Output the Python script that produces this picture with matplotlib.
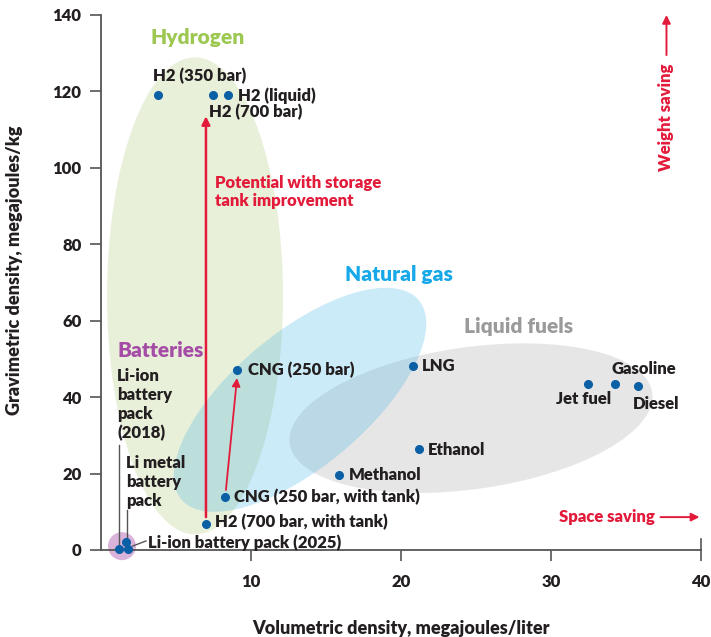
import matplotlib
matplotlib.use("Agg")
import matplotlib.pyplot as plt
from matplotlib.patches import Ellipse
from matplotlib.transforms import ScaledTranslation

plt.rcParams["font.family"] = ["Lato", "DejaVu Sans"]

# fuel points: volumetric (MJ/L), gravimetric (MJ/kg)
names = ["H2 (350 bar)", "H2 (700 bar)", "H2 (liquid)", "CNG (250 bar)", "LNG",
         "Ethanol", "Methanol", "Jet fuel", "Gasoline", "Diesel",
         "CNG (250 bar, with tank)", "H2 (700 bar, with tank)",
         "Li-ion battery pack (2018)", "Li metal battery pack",
         "Li-ion battery pack (2025)"]
vol = [3.8, 7.5, 8.5, 9.1, 20.8, 21.2, 15.9, 32.5, 34.3, 35.8, 8.3, 7.0, 1.2, 1.7, 1.8]
grav = [119, 119, 119, 47.1, 48.2, 26.4, 19.6, 43.4, 43.4, 42.9, 13.9, 6.8, 0.3, 2.1, 0.3]

xticks = [10, 20, 30, 40]
yticks = [0, 20, 40, 60, 80, 100, 120, 140]

DARK = "#231f20"
RED = "#e31b3b"
DOT = "#0b5fa5"
W = 800  # heavy weight to match the original typeface
FS = 12

fig = plt.figure(figsize=(7.11, 6.37), dpi=100)
ax = fig.add_axes([0.1420, 0.1366, 0.8439, 0.8399])
ax.set_xlim(0, 40)
ax.set_ylim(0, 140)


def blob(cx, cy, w, h, angle, color, alpha=1.0, z=0.5):
    # ellipse centred on a data point, sized in inches so it keeps its shape
    tr = fig.dpi_scale_trans + ScaledTranslation(cx, cy, ax.transData)
    e = Ellipse((0, 0), w, h, angle=angle, transform=tr, facecolor=color,
                edgecolor="none", alpha=alpha, zorder=z, clip_on=False)
    ax.add_patch(e)


blob(6.27, 66.5, 1.76, 4.77, 0, "#e9f0da", z=0.3)
blob(24.67, 34.5, 3.66, 1.42, 8, "#e6e6e6", z=0.4)
blob(13.27, 39.3, 3.10, 1.34, 40, "#37b0e4", alpha=0.25, z=0.5)
blob(1.4, 1.0, 0.28, 0.28, 0, "#dab3da", z=0.6)

ax.plot(vol, grav, "o", color=DOT, markersize=5.5, zorder=3, clip_on=False)

# group titles
grp = dict(fontsize=15, fontweight=W, va="center")
ax.text(6.47, 134, "Hydrogen", color="#9cc750", ha="center", **grp)
ax.text(19.87, 72.2, "Natural gas", color="#16a8e8", ha="center", **grp)
ax.text(27.87, 58.4, "Liquid fuels", color="#9a9a9a", ha="center", **grp)
ax.text(1.07, 52.1, "Batteries", color="#a54ca6", ha="left", **grp)

lab = dict(color=DARK, fontsize=FS, fontweight=W, va="center")
ax.text(3.47, 124.0, names[0], ha="left", **lab)
ax.text(9.13, 118.8, names[2], ha="left", **lab)
ax.text(7.2, 114.6, names[1], ha="left", **lab)
ax.text(9.8, 47.1, names[3], ha="left", **lab)
ax.text(21.4, 48.2, names[4], ha="left", **lab)
ax.text(21.8, 26.2, names[5], ha="left", **lab)
ax.text(16.53, 19.6, names[6], ha="left", **lab)
ax.text(32.2, 39.5, names[7], ha="center", **lab)
ax.text(36.2, 47.4, names[8], ha="center", **lab)
ax.text(37.0, 38.2, names[9], ha="center", **lab)
ax.text(8.87, 13.9, names[10], ha="left", **lab)
ax.text(7.6, 7.3, names[11], ha="left", **lab)
ax.text(3.13, 1.8, names[14], ha="left", **lab)
ax.text(1.07, 47.6, "Li-ion\nbattery\npack\n(2018)", ha="left", va="top",
        color=DARK, fontsize=FS, fontweight=W, linespacing=1.22)
ax.text(1.67, 24.9, "Li metal\nbattery\npack", ha="left", va="top",
        color=DARK, fontsize=FS, fontweight=W, linespacing=1.22)

# leader lines for the battery packs
ax.plot([1.2, 1.2], [27.5, 1.3], color="#555555", lw=1.0, zorder=2)
ax.plot([1.73, 1.73], [10.5, 3.1], color="#555555", lw=1.0, zorder=2)
ax.plot([2.13, 3.0], [1.05, 2.36], color="#555555", lw=1.0, zorder=2)

# red annotations
arw = dict(arrowstyle="-|>", color=RED, lw=1.8, mutation_scale=12, shrinkA=0, shrinkB=0)
ax.annotate("", xy=(7.0, 113.5), xytext=(7.0, 8.6), arrowprops=arw)
ax.annotate("", xy=(9.07, 45.0), xytext=(8.33, 15.7), arrowprops=dict(arw, lw=1.3))
ax.text(7.6, 98.1, "Potential with storage\ntank improvement", color=RED,
        fontsize=FS, fontweight=W, ha="left", va="top", linespacing=1.15)
ax.text(37.7, 113.3, "Weight saving", color=RED, fontsize=FS, fontweight=W,
        rotation=90, ha="center", va="center")
ax.annotate("", xy=(37.7, 140), xytext=(37.7, 129.5), arrowprops=dict(arw, lw=1.4),
            annotation_clip=False)
ax.text(36.9, 8.6, "Space saving", color=RED, fontsize=FS, fontweight=W,
        ha="right", va="center")
ax.annotate("", xy=(39.9, 8.6), xytext=(37.3, 8.6), arrowprops=dict(arw, lw=1.4))

# axes styling
for s in ["top", "right"]:
    ax.spines[s].set_visible(False)
for s in ["left", "bottom"]:
    ax.spines[s].set_color("#555555")
    ax.spines[s].set_linewidth(1.3)
ax.set_xticks(xticks)
ax.set_yticks(yticks)
ax.tick_params(axis="both", direction="out", length=8, width=1.2, color="#555555",
               labelsize=12, labelcolor=DARK)
ax.tick_params(axis="x", pad=9)
ax.tick_params(axis="y", pad=6)
for t in ax.get_xticklabels() + ax.get_yticklabels():
    t.set_fontweight(W)
ax.plot([40, 40], [0, 2.8], color="#555555", lw=1.2, clip_on=False, zorder=3)

ax.set_xlabel("Volumetric density, megajoules/liter", fontsize=13, fontweight=W, color=DARK)
ax.set_ylabel("Gravimetric density, megajoules/kg", fontsize=13, fontweight=W, color=DARK)
ax.xaxis.set_label_coords(0.5, -0.131)
ax.yaxis.set_label_coords(-0.13, 0.523)

fig.savefig("out.png", dpi=100)
